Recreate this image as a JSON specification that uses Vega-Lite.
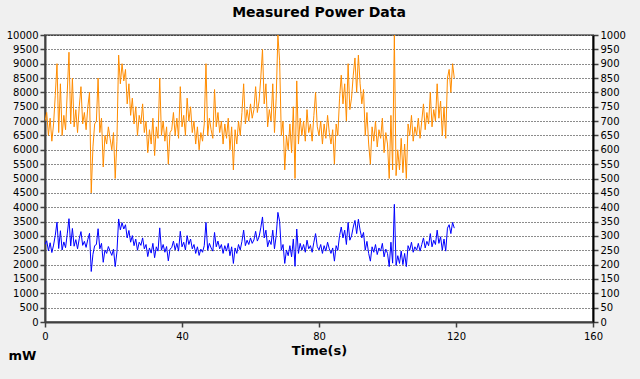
{
  "$schema": "https://vega.github.io/schema/vega-lite/v6.json",
  "width": 548,
  "height": 287,
  "autosize": {"type": "none"},
  "padding": {"left": 45, "top": 35, "right": 47, "bottom": 57},
  "background": "#f0f0f0",
  "title": {"text": "Measured Power Data", "font": "DejaVu Sans", "fontSize": 14, "fontWeight": "bold", "color": "#000000", "anchor": "middle", "offset": 10},
  "config": {
    "view": {"fill": "white", "stroke": "#808080", "strokeWidth": 2},
    "axis": {"labelFont": "DejaVu Sans", "labelFontSize": 10, "labelColor": "#000000", "titleFont": "DejaVu Sans", "titleColor": "#000000", "domainColor": "#404040", "domainWidth": 2, "tickColor": "#404040", "tickWidth": 1.5}
  },
  "data": {"values": [
    {"t":0,"p":7000,"b":2700},{"t":0.5,"p":7300,"b":2830},{"t":1,"p":6500,"b":2480},{"t":1.5,"p":7100,"b":2760},{"t":2,"p":6300,"b":2420},{"t":2.5,"p":6900,"b":2680},{"t":3,"p":7900,"b":3020},{"t":3.5,"p":9000,"b":3480},{"t":4,"p":6600,"b":2560},{"t":4.5,"p":8300,"b":3180},
    {"t":5,"p":6500,"b":2510},{"t":5.5,"p":7200,"b":2790},{"t":6,"p":6700,"b":2590},{"t":6.5,"p":8000,"b":3070},{"t":7,"p":9400,"b":3600},{"t":7.5,"p":6900,"b":2650},{"t":8,"p":8500,"b":3260},{"t":8.5,"p":6800,"b":2640},{"t":9,"p":7400,"b":2870},{"t":9.5,"p":6600,"b":2550},
    {"t":10,"p":7500,"b":2900},{"t":10.5,"p":8200,"b":3150},{"t":11,"p":6900,"b":2670},{"t":11.5,"p":7300,"b":2810},{"t":12,"p":6700,"b":2600},{"t":12.5,"p":7500,"b":2880},{"t":13,"p":8000,"b":3090},{"t":13.5,"p":4500,"b":1760},{"t":14,"p":6100,"b":2360},{"t":14.5,"p":6900,"b":2660},
    {"t":15,"p":7000,"b":2700},{"t":15.5,"p":8500,"b":3250},{"t":16,"p":6600,"b":2550},{"t":16.5,"p":7100,"b":2740},{"t":17,"p":5400,"b":2080},{"t":17.5,"p":6500,"b":2510},{"t":18,"p":6200,"b":2390},{"t":18.5,"p":6800,"b":2630},{"t":19,"p":6400,"b":2470},{"t":19.5,"p":6000,"b":2320},
    {"t":20,"p":6600,"b":2540},{"t":20.5,"p":5000,"b":1930},{"t":21,"p":6300,"b":2440},{"t":21.5,"p":9300,"b":3590},{"t":22,"p":8300,"b":3210},{"t":22.5,"p":9000,"b":3460},{"t":23,"p":8400,"b":3240},{"t":23.5,"p":8800,"b":3390},{"t":24,"p":7600,"b":2930},{"t":24.5,"p":8300,"b":3190},
    {"t":25,"p":7200,"b":2780},{"t":25.5,"p":7800,"b":3010},{"t":26,"p":6900,"b":2660},{"t":26.5,"p":7500,"b":2890},{"t":27,"p":6500,"b":2500},{"t":27.5,"p":7200,"b":2780},{"t":28,"p":6900,"b":2670},{"t":28.5,"p":7600,"b":2930},{"t":29,"p":6600,"b":2550},{"t":29.5,"p":7000,"b":2700},
    {"t":30,"p":5900,"b":2280},{"t":30.5,"p":6700,"b":2580},{"t":31,"p":6200,"b":2400},{"t":31.5,"p":7100,"b":2740},{"t":32,"p":5800,"b":2240},{"t":32.5,"p":6800,"b":2620},{"t":33,"p":6400,"b":2470},{"t":33.5,"p":8500,"b":3280},{"t":34,"p":6500,"b":2500},{"t":34.5,"p":7000,"b":2700},
    {"t":35,"p":6300,"b":2430},{"t":35.5,"p":6800,"b":2630},{"t":36,"p":5500,"b":2130},{"t":36.5,"p":6600,"b":2540},{"t":37,"p":6700,"b":2590},{"t":37.5,"p":7300,"b":2820},{"t":38,"p":6500,"b":2510},{"t":38.5,"p":7100,"b":2740},{"t":39,"p":6400,"b":2470},{"t":39.5,"p":8200,"b":3160},
    {"t":40,"p":6800,"b":2620},{"t":40.5,"p":7200,"b":2780},{"t":41,"p":6500,"b":2510},{"t":41.5,"p":7800,"b":3010},{"t":42,"p":7000,"b":2700},{"t":42.5,"p":7500,"b":2890},{"t":43,"p":6600,"b":2550},{"t":43.5,"p":7000,"b":2700},{"t":44,"p":6200,"b":2390},{"t":44.5,"p":6800,"b":2620},
    {"t":45,"p":6000,"b":2320},{"t":45.5,"p":6600,"b":2540},{"t":46,"p":6300,"b":2430},{"t":46.5,"p":6900,"b":2660},{"t":47,"p":9000,"b":3470},{"t":47.5,"p":6500,"b":2500},{"t":48,"p":7100,"b":2740},{"t":48.5,"p":6700,"b":2580},{"t":49,"p":6400,"b":2470},{"t":49.5,"p":8100,"b":3120},
    {"t":50,"p":6800,"b":2620},{"t":50.5,"p":7300,"b":2820},{"t":51,"p":6600,"b":2550},{"t":51.5,"p":7000,"b":2700},{"t":52,"p":6200,"b":2390},{"t":52.5,"p":6900,"b":2660},{"t":53,"p":6400,"b":2470},{"t":53.5,"p":7100,"b":2740},{"t":54,"p":6000,"b":2310},{"t":54.5,"p":6800,"b":2620},
    {"t":55,"p":5300,"b":2040},{"t":55.5,"p":6700,"b":2580},{"t":56,"p":6200,"b":2390},{"t":56.5,"p":7000,"b":2700},{"t":57,"p":6500,"b":2510},{"t":57.5,"p":7300,"b":2810},{"t":58,"p":8300,"b":3200},{"t":58.5,"p":6900,"b":2660},{"t":59,"p":7400,"b":2850},{"t":59.5,"p":7000,"b":2700},
    {"t":60,"p":7600,"b":2930},{"t":60.5,"p":7100,"b":2740},{"t":61,"p":7400,"b":2860},{"t":61.5,"p":8200,"b":3160},{"t":62,"p":7300,"b":2820},{"t":62.5,"p":7700,"b":2970},{"t":63,"p":8500,"b":3280},{"t":63.5,"p":9500,"b":3660},{"t":64,"p":7600,"b":2930},{"t":64.5,"p":8300,"b":3200},
    {"t":65,"p":6800,"b":2620},{"t":65.5,"p":7400,"b":2850},{"t":66,"p":7000,"b":2700},{"t":66.5,"p":8300,"b":3200},{"t":67,"p":6600,"b":2550},{"t":67.5,"p":7800,"b":3010},{"t":68,"p":10000,"b":3820},{"t":68.5,"p":9100,"b":3510},{"t":69,"p":6500,"b":2500},{"t":69.5,"p":7000,"b":2700},
    {"t":70,"p":5300,"b":2040},{"t":70.5,"p":6500,"b":2510},{"t":71,"p":6000,"b":2310},{"t":71.5,"p":6900,"b":2660},{"t":72,"p":5900,"b":2270},{"t":72.5,"p":7500,"b":2890},{"t":73,"p":5000,"b":1940},{"t":73.5,"p":8400,"b":3240},{"t":74,"p":6200,"b":2390},{"t":74.5,"p":7100,"b":2740},
    {"t":75,"p":6500,"b":2500},{"t":75.5,"p":7000,"b":2700},{"t":76,"p":6300,"b":2430},{"t":76.5,"p":7400,"b":2850},{"t":77,"p":6600,"b":2550},{"t":77.5,"p":6900,"b":2660},{"t":78,"p":6300,"b":2430},{"t":78.5,"p":7200,"b":2780},{"t":79,"p":8000,"b":3080},{"t":79.5,"p":6800,"b":2620},
    {"t":80,"p":6500,"b":2510},{"t":80.5,"p":7000,"b":2700},{"t":81,"p":6200,"b":2390},{"t":81.5,"p":6900,"b":2660},{"t":82,"p":6400,"b":2470},{"t":82.5,"p":7200,"b":2780},{"t":83,"p":6600,"b":2550},{"t":83.5,"p":6200,"b":2390},{"t":84,"p":6700,"b":2580},{"t":84.5,"p":5500,"b":2120},
    {"t":85,"p":6900,"b":2660},{"t":85.5,"p":6500,"b":2500},{"t":86,"p":7800,"b":3010},{"t":86.5,"p":8600,"b":3310},{"t":87,"p":7600,"b":2930},{"t":87.5,"p":8300,"b":3200},{"t":88,"p":7000,"b":2700},{"t":88.5,"p":9000,"b":3470},{"t":89,"p":7400,"b":2850},{"t":89.5,"p":7800,"b":3000},
    {"t":90,"p":8600,"b":3310},{"t":90.5,"p":9200,"b":3540},{"t":91,"p":8000,"b":3080},{"t":91.5,"p":9300,"b":3580},{"t":92,"p":8300,"b":3200},{"t":92.5,"p":7600,"b":2930},{"t":93,"p":8100,"b":3120},{"t":93.5,"p":6500,"b":2500},{"t":94,"p":7300,"b":2810},{"t":94.5,"p":6200,"b":2390},
    {"t":95,"p":5500,"b":2120},{"t":95.5,"p":6800,"b":2620},{"t":96,"p":6300,"b":2430},{"t":96.5,"p":7000,"b":2700},{"t":97,"p":6100,"b":2350},{"t":97.5,"p":6700,"b":2580},{"t":98,"p":6400,"b":2470},{"t":98.5,"p":7100,"b":2740},{"t":99,"p":5900,"b":2270},{"t":99.5,"p":6600,"b":2540},
    {"t":100,"p":6200,"b":2390},{"t":100.5,"p":5000,"b":1930},{"t":101,"p":7200,"b":2780},{"t":101.5,"p":5300,"b":2050},{"t":102,"p":10000,"b":4100},{"t":102.5,"p":5100,"b":1970},{"t":103,"p":6000,"b":2310},{"t":103.5,"p":5300,"b":2040},{"t":104,"p":6400,"b":2470},{"t":104.5,"p":5200,"b":2000},
    {"t":105,"p":6200,"b":2390},{"t":105.5,"p":5000,"b":1930},{"t":106,"p":6900,"b":2660},{"t":106.5,"p":6500,"b":2500},{"t":107,"p":7200,"b":2780},{"t":107.5,"p":6300,"b":2430},{"t":108,"p":6800,"b":2620},{"t":108.5,"p":6500,"b":2500},{"t":109,"p":7100,"b":2740},{"t":109.5,"p":6400,"b":2470},
    {"t":110,"p":7000,"b":2700},{"t":110.5,"p":7600,"b":2930},{"t":111,"p":6700,"b":2580},{"t":111.5,"p":7300,"b":2810},{"t":112,"p":6900,"b":2660},{"t":112.5,"p":8000,"b":3080},{"t":113,"p":6800,"b":2620},{"t":113.5,"p":7400,"b":2850},{"t":114,"p":7000,"b":2700},{"t":114.5,"p":8300,"b":3200},
    {"t":115,"p":7100,"b":2740},{"t":115.5,"p":7700,"b":2970},{"t":116,"p":6500,"b":2500},{"t":116.5,"p":7500,"b":2890},{"t":117,"p":6400,"b":2470},{"t":117.5,"p":8500,"b":3270},{"t":118,"p":8800,"b":3390},{"t":118.5,"p":8000,"b":3080},{"t":119,"p":9000,"b":3470},{"t":119.5,"p":8500,"b":3270}
  ]},
  "layer": [
    {
      "layer": [
        {
          "mark": {"type": "line", "color": "#ff8c00", "strokeWidth": 1, "clip": true},
          "encoding": {
            "x": {"field": "t", "type": "quantitative", "scale": {"domain": [0, 160], "nice": false},
              "axis": {"values": [0, 40, 80, 120, 160], "grid": false, "title": "Time(s)", "titleFontSize": 13, "titleFontWeight": "bold", "titlePadding": 3, "labelPadding": 4, "tickSize": 5, "labelFlush": false}},
            "y": {"field": "p", "type": "quantitative", "scale": {"domain": [0, 10000], "nice": false},
              "axis": {"values": [0,500,1000,1500,2000,2500,3000,3500,4000,4500,5000,5500,6000,6500,7000,7500,8000,8500,9000,9500,10000], "format": "d", "grid": true, "gridColor": "#000000", "gridDash": [1, 2], "gridOpacity": 0.9, "tickSize": 5, "labelPadding": 2, "title": "mW", "titleAngle": 0, "titleFontSize": 13, "titleFontWeight": "bold", "titleAlign": "left", "titleBaseline": "middle", "titleX": -37, "titleY": 320}}
          }
        },
        {
          "mark": {"type": "line", "color": "#0000ff", "strokeWidth": 1, "clip": true},
          "encoding": {
            "x": {"field": "t", "type": "quantitative", "scale": {"domain": [0, 160], "nice": false},
              "axis": {"values": [0, 40, 80, 120, 160], "grid": false, "title": "Time(s)", "titleFontSize": 13, "titleFontWeight": "bold", "titlePadding": 3, "labelPadding": 4, "tickSize": 5, "labelFlush": false}},
            "y": {"field": "b", "type": "quantitative", "scale": {"domain": [0, 10000], "nice": false},
              "axis": {"values": [0,500,1000,1500,2000,2500,3000,3500,4000,4500,5000,5500,6000,6500,7000,7500,8000,8500,9000,9500,10000], "format": "d", "grid": true, "gridColor": "#000000", "gridDash": [1, 2], "gridOpacity": 0.9, "tickSize": 5, "labelPadding": 2, "title": "mW", "titleAngle": 0, "titleFontSize": 13, "titleFontWeight": "bold", "titleAlign": "left", "titleBaseline": "middle", "titleX": -37, "titleY": 320}}
          }
        }
      ]
    },
    {
      "mark": {"type": "line", "opacity": 0, "clip": true},
      "encoding": {
        "x": {"field": "t", "type": "quantitative", "scale": {"domain": [0, 160], "nice": false}},
        "y": {"field": "p", "type": "quantitative", "scale": {"domain": [0, 1000], "nice": false},
          "axis": {"orient": "right", "values": [0,50,100,150,200,250,300,350,400,450,500,550,600,650,700,750,800,850,900,950,1000], "format": "d", "grid": false, "tickSize": 5, "labelPadding": 2, "title": null, "domainColor": "#000000"}}
      }
    }
  ],
  "resolve": {"scale": {"y": "independent"}}
}
